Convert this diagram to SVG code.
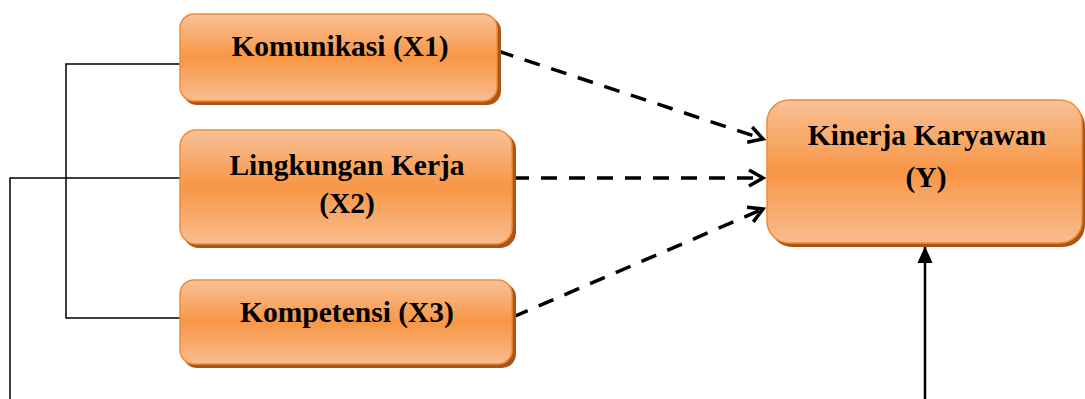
<svg xmlns="http://www.w3.org/2000/svg" width="1085" height="399" viewBox="0 0 1085 399">
  <defs>
    <linearGradient id="fillOrange" x1="0" y1="0" x2="0" y2="1">
      <stop offset="0" stop-color="#f9c196"/>
      <stop offset="0.5" stop-color="#f79646"/>
      <stop offset="1" stop-color="#f9bd8f"/>
    </linearGradient>
    <marker id="openHead" markerUnits="userSpaceOnUse" markerWidth="24" markerHeight="24" viewBox="-20 -12 24 24" refX="0" refY="0" orient="auto">
      <path d="M -14,-8 L 0,0 L -14,8" fill="none" stroke="#000" stroke-width="3.5"/>
    </marker>
    <marker id="solidHead" markerUnits="userSpaceOnUse" markerWidth="20" markerHeight="20" viewBox="-18 -10 20 20" refX="0" refY="0" orient="auto">
      <path d="M -17,-7.5 L 0,0 L -17,7.5 Z" fill="#000"/>
    </marker>
  </defs>
  <style>
    .shadow { fill: #a9561a; }
    .box { fill: url(#fillOrange); stroke: #f28a36; stroke-width: 1.5; }
    .label { font-family: "Liberation Serif", "Times New Roman", serif; font-weight: bold; font-size: 29.5px; fill: #000; text-anchor: middle; }
    .dash { fill: none; stroke: #000; stroke-width: 3.5; stroke-dasharray: 16 12; marker-end: url(#openHead); }
    .thin { fill: none; stroke: #000; stroke-width: 1.5; }
  </style>

  <g id="connectors">
    <!-- bracket joining X1 and X3 -->
    <polyline class="thin" points="180,64 66,64 66,318 180,318"/>
    <!-- line from X2 running down the left edge -->
    <polyline class="thin" points="180,178 10,178 10,399"/>
    <!-- line rising into Y -->
    <line x1="925" y1="399" x2="925" y2="246" stroke="#000" stroke-width="2.5" marker-end="url(#solidHead)"/>
    <!-- dashed influence arrows -->
    <line class="dash" x1="498" y1="51" x2="763" y2="139"/>
    <line class="dash" x1="513" y1="178" x2="763" y2="178"/>
    <line class="dash" x1="513" y1="317" x2="763" y2="209"/>
  </g>

  <g id="node-x1">
    <rect class="shadow" x="183" y="17" width="318" height="88" rx="14"/>
    <rect class="box" x="180" y="14" width="317" height="87" rx="14"/>
    <text class="label" x="340" y="56">Komunikasi (X1)</text>
  </g>

  <g id="node-x2">
    <rect class="shadow" x="183" y="133" width="333" height="115" rx="16"/>
    <rect class="box" x="180" y="130" width="332" height="114" rx="16"/>
    <text class="label" x="347" y="175">Lingkungan Kerja</text>
    <text class="label" x="347" y="213">(X2)</text>
  </g>

  <g id="node-x3">
    <rect class="shadow" x="183" y="283" width="333" height="85" rx="14"/>
    <rect class="box" x="180" y="280" width="332" height="84" rx="14"/>
    <text class="label" x="347" y="322">Kompetensi (X3)</text>
  </g>

  <g id="node-y">
    <rect class="shadow" x="770" y="104" width="315" height="143" rx="22"/>
    <rect class="box" x="767" y="100" width="315" height="143" rx="22"/>
    <text class="label" x="927" y="145">Kinerja Karyawan</text>
    <text class="label" x="926" y="187">(Y)</text>
  </g>
</svg>
